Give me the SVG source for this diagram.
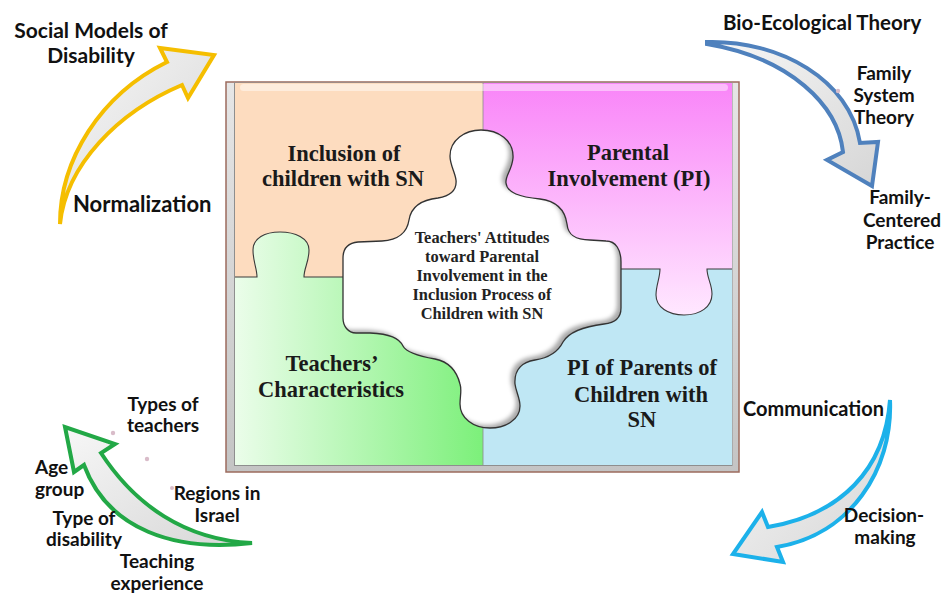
<svg xmlns="http://www.w3.org/2000/svg" xmlns:xlink="http://www.w3.org/1999/xlink" width="944" height="594" viewBox="0 0 944 594">
  <style>
    .side { font-family: Lato, "Open Sans", "Liberation Sans", sans-serif; font-weight: 700; fill: #111; }
    .quad { font-family: "Liberation Serif", "Times New Roman", serif; font-weight: 700; font-size: 22.5px; fill: #1a1a1a; text-anchor: middle; }
    .core { font-family: "Liberation Serif", "Times New Roman", serif; font-weight: 700; font-size: 16.4px; fill: #222; text-anchor: middle; }
    .arrow { stroke-width: 4; stroke-linejoin: miter; fill: url(#arrowFill); }
    .seam { fill: none; stroke: #3a3a3a; stroke-width: 1.1; }
    .dot { fill: #d9bcc9; }
  </style>
  <defs>
    <linearGradient id="arrowFill" x1="0" y1="0" x2="1" y2="1">
      <stop offset="0" stop-color="#f7f7f7"/>
      <stop offset="1" stop-color="#d6d6d6"/>
    </linearGradient>
    <linearGradient id="pinkGrad" gradientUnits="userSpaceOnUse" x1="0" y1="84" x2="0" y2="316">
      <stop offset="0" stop-color="#f985f8"/>
      <stop offset="1" stop-color="#ffe8ff"/>
    </linearGradient>
    <linearGradient id="greenGrad" gradientUnits="userSpaceOnUse" x1="235" y1="0" x2="483" y2="0">
      <stop offset="0" stop-color="#ebfdea"/>
      <stop offset="1" stop-color="#7cf07a"/>
    </linearGradient>
    <linearGradient id="frameGrad" x1="0" y1="0" x2="0" y2="1">
      <stop offset="0" stop-color="#e6e6e6"/>
      <stop offset="1" stop-color="#c4c4c4"/>
    </linearGradient>
    <filter id="soft" x="-10%" y="-10%" width="120%" height="120%">
      <feGaussianBlur stdDeviation="2"/>
    </filter>
    <path id="cross" d="M481,130 C498,130 514,140 513,158 C512,170 505,176 506,183 C507,193 520,197 540,199 C556,201 565,210 567,224 C568,235 575,240 590,240 L606,241 C616,241 621,250 621,262 L621,308 C621,318 614,323 604,324 C588,326 570,330 563,342 C558,352 548,358 535,360 C522,362 514,370 515,384 C516,392 520,398 520,406 C520,420 505,428 490,428 C473,428 460,418 460,404 C460,396 462,390 460,384 C457,372 450,362 435,359 C418,356 406,352 403,346 C399,338 390,334 370,333 L356,333 C348,333 343,326 343,318 L343,258 C343,249 348,243 358,242 L382,241 C398,240 407,233 409,220 C411,207 420,200 438,198 C450,196 457,190 456,180 C455,172 450,165 450,156 C450,140 465,130 481,130 Z"/>
    <clipPath id="crossClip"><use xlink:href="#cross"/></clipPath>
  </defs>

  <rect width="944" height="594" fill="#ffffff"/>

  <!-- frame -->
  <g id="frame">
    <rect x="226" y="82" width="513" height="390" fill="url(#frameGrad)" stroke="#9c6b5d" stroke-width="1.5"/>
    <rect x="234.5" y="83" width="497.5" height="382.5" fill="none" stroke="#8e8e8e" stroke-width="1"/>
  </g>

  <!-- puzzle pieces -->
  <g id="piece-inclusion">
    <rect x="235" y="83" width="248" height="194" fill="#fddcbf"/>
  </g>
  <g id="piece-pi-sn">
    <rect x="483" y="269" width="249" height="196" fill="#bfe7f4"/>
  </g>
  <g id="piece-teachers">
    <path d="M235,277 L257,277 C257,268 253,262 253,250 C253,238 265,232 280,232 C295,232 309,238 309,250 C309,262 304,268 304,277 L483,277 L483,465 L235,465 Z" fill="url(#greenGrad)"/>
    <path class="seam" d="M235,277 L257,277 C257,268 253,262 253,250 C253,238 265,232 280,232 C295,232 309,238 309,250 C309,262 304,268 304,277 L483,277"/>
  </g>
  <g id="piece-parental">
    <path d="M483,83 L732,83 L732,269 L707,269 C707,278 712,284 712,294 C712,307 700,315 684,315 C668,315 656,307 656,295 C656,285 660,278 660,269 L483,269 Z" fill="url(#pinkGrad)"/>
    <path class="seam" d="M483,269 L660,269 C660,278 656,285 656,295 C656,307 668,315 684,315 C700,315 712,307 712,294 C712,284 707,278 707,269 L732,269"/>
  </g>
  <line x1="483" y1="83" x2="483" y2="465" stroke="#8a8a8a" stroke-width="0.8"/>
  <rect x="240" y="84" width="488" height="7" rx="3.5" fill="#ffffff" opacity="0.45"/>

  <g id="piece-core">
    <use xlink:href="#cross" fill="#a9a9a9"/>
    <g clip-path="url(#crossClip)">
      <use xlink:href="#cross" fill="#ffffff" transform="translate(-4,-3)" filter="url(#soft)"/>
    </g>
    <use xlink:href="#cross" fill="none" stroke="#333" stroke-width="1.3"/>
    <text class="core" x="482" y="243">Teachers' Attitudes</text>
    <text class="core" x="482" y="262">toward Parental</text>
    <text class="core" x="482" y="281">Involvement in the</text>
    <text class="core" x="482" y="300">Inclusion Process of</text>
    <text class="core" x="482" y="319">Children with SN</text>
  </g>

  <g id="labels-quadrants">
    <text class="quad" x="344" y="161">Inclusion of</text>
    <text class="quad" x="343" y="186">children with SN</text>
    <text class="quad" x="628" y="160">Parental</text>
    <text class="quad" x="629" y="186">Involvement (PI)</text>
    <text class="quad" x="332" y="371">Teachers’</text>
    <text class="quad" x="331" y="397">Characteristics</text>
    <text class="quad" x="642" y="375">PI of Parents of</text>
    <text class="quad" x="641" y="402">Children with</text>
    <text class="quad" x="642" y="427">SN</text>
  </g>

  <!-- curved arrows -->
  <g id="connectors">
    <path class="arrow" stroke="#f5be00" d="M60,224 C60,160 100,95 167,62 L160,48 L214,55 L188,98 L182,85 C118,112 66,165 60,224 Z"/>
    <path class="arrow" stroke="#4f81bd" d="M707,42 C780,40 850,80 860,143 L878,142 L872,186 L827,160 L843,152 C838,105 790,58 707,44 Z"/>
    <path class="arrow" stroke="#1cb1ea" d="M890,400 C885,470 840,515 768,527 L762,512 L733,554 L783,562 L777,547 C850,535 893,470 890,400 Z"/>
    <path class="arrow" stroke="#22a846" d="M252,543 C185,540 135,505 101,453 L115,444 L65,427 L74,472 L84,465 C108,530 175,552 252,543 Z"/>
  </g>

  <g id="labels-side">
    <text class="side" font-size="21" text-anchor="middle" x="91" y="38">Social Models of</text>
    <text class="side" font-size="21" text-anchor="middle" x="91" y="63">Disability</text>
    <text class="side" font-size="22" x="73" y="212">Normalization</text>

    <text class="side" font-size="20.5" x="723" y="30">Bio-Ecological Theory</text>
    <circle class="dot" cx="838" cy="91" r="2.2"/>
    <text class="side" font-size="19" text-anchor="middle" x="884" y="80">Family</text>
    <text class="side" font-size="19" text-anchor="middle" x="884" y="102">System</text>
    <text class="side" font-size="19" text-anchor="middle" x="884" y="124">Theory</text>
    <text class="side" font-size="19" text-anchor="middle" x="900" y="204">Family-</text>
    <text class="side" font-size="19" text-anchor="middle" x="902" y="227">Centered</text>
    <text class="side" font-size="19" text-anchor="middle" x="900" y="249">Practice</text>

    <text class="side" font-size="20" x="743" y="416">Communication</text>
    <text class="side" font-size="19" text-anchor="middle" x="884" y="522">Decision-</text>
    <text class="side" font-size="19" text-anchor="middle" x="885" y="544">making</text>

    <circle class="dot" cx="113" cy="433" r="2.2"/>
    <circle class="dot" cx="147" cy="459" r="2.2"/>
    <circle class="dot" cx="172" cy="488" r="2"/>
    <text class="side" font-size="19" text-anchor="middle" x="163" y="411">Types of</text>
    <text class="side" font-size="19" text-anchor="middle" x="163" y="432">teachers</text>
    <text class="side" font-size="19" x="35" y="474">Age</text>
    <text class="side" font-size="19" x="35" y="496">group</text>
    <text class="side" font-size="19" text-anchor="middle" x="217" y="500">Regions in</text>
    <text class="side" font-size="19" text-anchor="middle" x="217" y="522">Israel</text>
    <text class="side" font-size="19" text-anchor="middle" x="84" y="525">Type of</text>
    <text class="side" font-size="19" text-anchor="middle" x="84" y="546">disability</text>
    <text class="side" font-size="19" text-anchor="middle" x="157" y="568">Teaching</text>
    <text class="side" font-size="19" text-anchor="middle" x="157" y="590">experience</text>
  </g>
</svg>
